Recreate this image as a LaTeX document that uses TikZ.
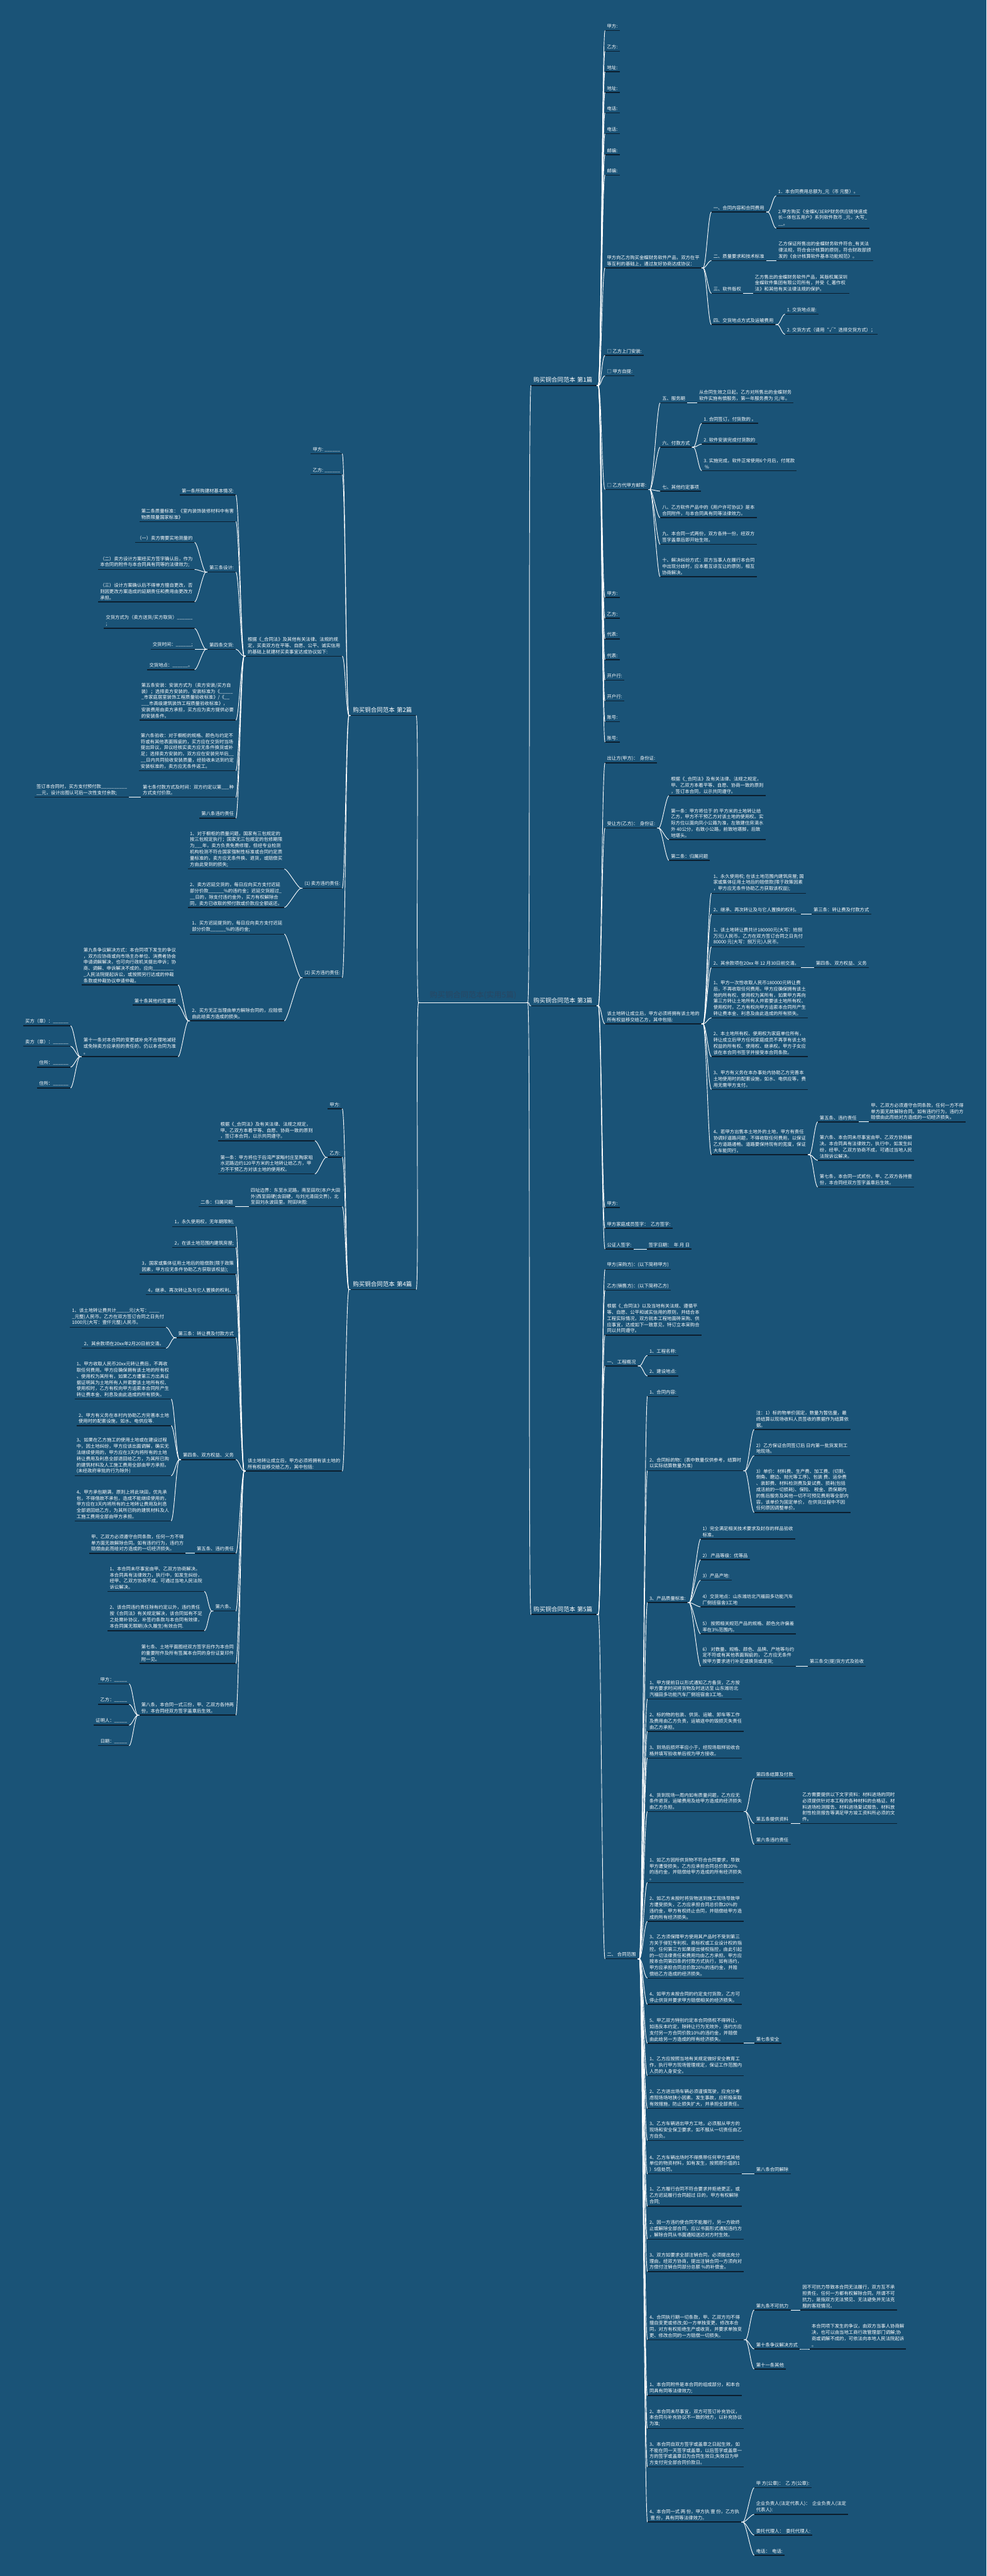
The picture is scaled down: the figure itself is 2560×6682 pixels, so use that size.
\documentclass[tikz,border=0pt]{standalone}
\usepackage{fontspec}
\setmainfont{Noto Sans CJK SC}
\definecolor{bg}{RGB}{26,83,119}
\definecolor{ulc}{RGB}{12,30,46}
\definecolor{rootc}{RGB}{40,70,98}
\tikzset{
 lf/.style={text=white, font=\fontsize{12}{16}\selectfont, align=left, inner xsep=5pt, inner ysep=5pt,
   append after command={(\tikzlastnode.south west) edge[draw=ulc, line width=2.5pt] (\tikzlastnode.south east)}},
 mainn/.style={text=white, font=\fontsize{15.5}{18}\selectfont, align=left, text width=158pt, inner xsep=6pt, inner ysep=7pt,
   append after command={(\tikzlastnode.south west) edge[draw=ulc, line width=2.5pt] (\tikzlastnode.south east)}},
 rootn/.style={text=rootc, font=\fontsize{20}{24}\selectfont, minimum width=275pt, inner xsep=0pt, inner ysep=9pt,
   append after command={(\tikzlastnode.south west) edge[draw=white, line width=1.8pt] (\tikzlastnode.south east)}},
 conn/.style={draw=white, line width=1.5pt},
}
\newcommand\nR[4]{\node[lf,anchor=south west] (#1) at (#2,#3) {#4};}
\newcommand\nL[4]{\node[lf,anchor=south east] (#1) at (#2,#3) {#4};}
\newcommand\fanR[2]{\foreach \kid in {#2}{\draw[conn] (#1.south east) -- ++(4,0) .. controls +(8,0) and +(-8,0) .. (\kid.south west);}}
\newcommand\fanL[2]{\foreach \kid in {#2}{\draw[conn] (#1.south west) -- ++(-4,0) .. controls +(-8,0) and +(8,0) .. (\kid.south east);}}
\begin{document}
\begin{tikzpicture}[x=1pt,y=-1pt]
\useasboundingbox (0,0) rectangle (2560,6682);
\fill[bg] (0,0) rectangle (2560,6682);

% root and main branches
\node[rootn,anchor=south west] (root) at (1090,2601) {购买铜合同范本(实用5篇)};
\node[mainn,anchor=south west] (m1) at (1378,1000) {购买铜合同范本 第1篇};
\node[mainn,anchor=south west] (m3) at (1378,2609) {购买铜合同范本 第3篇};
\node[mainn,anchor=south west] (m5) at (1378,4188) {购买铜合同范本 第5篇};
\node[mainn,anchor=south east] (m2) at (1080,1856) {购买铜合同范本 第2篇};
\node[mainn,anchor=south east] (m4) at (1080,3345) {购买铜合同范本 第4篇};

% ---------- branch 1
\nR{a1}{1570}{79}{甲方:}
\nR{a2}{1570}{133}{乙方:}
\nR{a3}{1570}{186}{地址:}
\nR{a4}{1570}{240}{地址:}
\nR{a5}{1570}{293}{电话:}
\nR{a6}{1570}{347}{电话:}
\nR{a7}{1570}{401}{邮编:}
\nR{a8}{1570}{454}{邮编:}
\nR{a9}{1570}{695}{甲方向乙方购买金蝶财务软件产品，双方在平\\等互利的基础上，通过友好协商达成协议：}
\nR{a9a}{1846}{550}{一、合同内容和合同费用}
\nR{a9a1}{2014}{508}{1．本合同费用总额为\_元（币 元整）。}
\nR{a9a2}{2014}{592}{2.甲方购买《金蝶K/3ERP财务供应链快速成\\长—体包五用户》系列软件款币 \_元，大写\_\\\_\_。}
\nR{a9b}{1846}{676}{二、质量要求和技术标准}
\nR{a9b1}{2015}{676}{乙方保证所售出的金蝶财务软件符合\_有关法\\律法规，符合会计核算的原则，符合财政部颁\\发的《会计核算软件基本功能规范》。}
\nR{a9c}{1846}{761}{三、软件版权}
\nR{a9c1}{1954}{761}{乙方售出的金蝶财务软件产品，其版权属深圳\\金蝶软件集团有限公司所有，并受《\_著作权\\法》和其他有关法律法规的保护。}
\nR{a9d}{1846}{842}{四、交货地点方式及运输费用}
\nR{a9d1}{2037}{815}{1. 交货地点是:}
\nR{a9d2}{2037}{867}{2. 交货方式（请用“√”选择交货方式）；}
\nR{a10}{1570}{922}{□ 乙方上门安装:}
\nR{a11}{1570}{975}{□ 甲方自提:}
\nR{a12}{1570}{1270}{□ 乙方代甲方邮寄:}
\nR{a12a}{1713}{1045}{五、服务期}
\nR{a12a1}{1809}{1045}{从合同生效之日起，乙方对所售出的金蝶财务\\软件实施有偿服务，第一年服务费为 元/年。}
\nR{a12b}{1713}{1160}{六、付款方式}
\nR{a12b1}{1821}{1098}{1. 合同签订，付货款的 。}
\nR{a12b2}{1821}{1152}{2. 软件安装完成付货款的}
\nR{a12b3}{1821}{1221}{3. 实施完成，软件正常使用6个月后，付尾款\\~\%}
\nR{a12c}{1713}{1274}{七、其他约定事项}
\nR{a12d}{1713}{1343}{八、乙方软件产品中的《用户许可协议》是本\\合同附件，与本合同具有同等法律效力。}
\nR{a12e}{1713}{1412}{九、本合同一式两份，双方各持一份，经双方\\签字盖章后即开始生效。}
\nR{a12f}{1713}{1496}{十、解决纠纷方式：双方当事人在履行本合同\\中出现分歧时，应本着互谅互让的原则，相互\\协商解决。}
\nR{a13}{1570}{1550}{甲方:}
\nR{a14}{1570}{1604}{乙方:}
\nR{a15}{1570}{1657}{代表:}
\nR{a16}{1570}{1711}{代表:}
\nR{a17}{1570}{1764}{开户行:}
\nR{a18}{1570}{1818}{开户行:}
\nR{a19}{1570}{1872}{账号:}
\nR{a20}{1570}{1925}{账号:}

% ---------- branch 3
\nR{b1}{1570}{1979}{出让方(甲方)：~~身份证:}
\nR{b2}{1570}{2148}{受让方(乙方)：~~身份证:}
\nR{b2a}{1736}{2064}{根据《\_合同法》及有关法律、法规之规定，\\甲、乙双方本着平等、自愿、协商一致的原则\\，签订本合同，以示共同遵守。}
\nR{b2b}{1736}{2178}{第一条：甲方将位于 的 平方米的土地转让给\\乙方，甲方不干预乙方对该土地的使用权。实\\际方位以面向凤小公路为准，左致建住房滴水\\外 40公分，右致小公路，前致地堪脚，后致\\地堪头。}
\nR{b2c}{1736}{2232}{第二条：归属问题}
\nR{b3}{1570}{2656}{该土地转让成立后，甲方必须将拥有该土地的\\所有权益移交给乙方，其中包括:}
\nR{b3a}{1846}{2317}{1、永久使用权; 在该土地范围内建筑房屋; 国\\家或集体征用土地后的赔偿款(限于政策因素\\，甲方应无条件协助乙方获取该权益);}
\nR{b3b}{1846}{2371}{2、继承、再次转让及与它人置换的权利。}
\nR{b3b1}{2106}{2371}{第三条：转让费及付款方式}
\nR{b3c}{1846}{2456}{1、该土地转让费共计180000元(大写：拾捌\\万元)人民币。乙方在双方签订合同之日先付\\80000 元(大写：捌万元)人民币。}
\nR{b3d}{1846}{2510}{2、其余款项在20xx 年 12 月30日前交清。}
\nR{b3d1}{2112}{2510}{第四条、双方权益、义务}
\nR{b3e}{1846}{2640}{1、甲方一次性收取人民币180000元转让费\\后，不再收取任何费用。甲方应确保拥有该土\\地的所有权、使用权为其所有，如果甲方再向\\第三方转让土地所有人并索要该土地所有权、\\使用权时，乙方有权向甲方追索本合同所产生\\转让费本金、利息及由此造成的所有损失。}
\nR{b3f}{1846}{2741}{2、本土地所有权、使用权为家庭单位所有，\\转让成立后甲方任何家庭成员不再享有该土地\\权益的所有权、使用权、继承权。甲方子女应\\该在本合同书签字并接受本合同条款。}
\nR{b3g}{1846}{2826}{3、甲方有义务在本办事处内协助乙方完善本\\土地使用时的配套设施，如水、电供应等，费\\用无需甲方支付。}
\nR{b3h}{1846}{2995}{4、若甲方出售本土地外的土地，甲方有责任\\协调好道路问题，不得收取任何费用，以保证\\乙方道路通畅。道路要保持现有的宽度，保证\\大车能同行。}
\nR{b3h1}{2122}{2910}{第五条、违约责任}
\nR{b3h1a}{2255}{2910}{甲、乙双方必须遵守合同条款，任何一方不得\\单方面无故解除合同。如有违约行为，违约方\\赔偿由此而给对方造成的一切经济损失。}
\nR{b3h2}{2122}{3010}{第六条、本合同未尽事宜由甲、乙双方协商解\\决。本合同具有法律效力，执行中，如发生纠\\纷，经甲、乙双方协商不成，可通过当地人民\\法院诉讼解决。}
\nR{b3h3}{2122}{3079}{第七条，本合同一式贰份，甲、乙双方各持壹\\份，本合同经双方签字盖章后生效。}
\nR{b4}{1570}{3132}{甲方:}
\nR{b5}{1570}{3186}{甲方家庭成员签字：~~乙方签字:}
\nR{b6}{1570}{3240}{公证人签字:}
\nR{b6a}{1678}{3240}{签字日期：~~年 月 日}

% ---------- branch 5
\nR{c1}{1570}{3293}{甲方(采购方)：(以下简称甲方)}
\nR{c2}{1570}{3347}{乙方(销售方)：(以下简称乙方)}
\nR{c3}{1570}{3463}{根据《\_合同法》以及当地有关法规、遵循平\\等、自愿、公平和诚实信用的原则，并结合本\\工程实际情况，双方就本工程地面砖采购、供\\应事宜，达成如下一致意见，特订立本采购合\\同以共同遵守。}
\nR{c4}{1570}{3543}{一、~工程概况}
\nR{c4a}{1680}{3516}{1、工程名称:}
\nR{c4b}{1680}{3569}{2、建设地点:}
\nR{c5}{1570}{5081}{二、~合同范围}
\nR{c5a}{1680}{3622}{1、合同内容:}
\nR{c5b}{1680}{3815}{2、合同标的物：(表中数量仅供参考，结算时\\以实际结算数量为准)}
\nR{c5b1}{1957}{3708}{注：1）标的物单价固定，数量为暂估量，最\\终结算以现场收料人员签收的票据作为结算依\\据。}
\nR{c5b2}{1957}{3776}{2）乙方保证合同签订后 日内第一批货发到工\\地现场。}
\nR{c5b3}{1957}{3923}{3）单价：材料费、生产费、加工费、(切割、\\倒角、磨边、抛光等工序)、包装 费、运杂费\\、装卸费、材料检测费及复试费、损耗(包括\\成活前的一切损耗)、保险、 税金、质保期内\\的售后服务及其他一切不可预见费用等全部内\\容，该单价为固定单价， 在供货过程中不因\\任何原因调整单价。}
\nR{c5c}{1680}{4157}{3、产品质量标准:}
\nR{c5c1}{1818}{3992}{1）完全满足相关技术要求及封存的样品验收\\标准。}
\nR{c5c2}{1818}{4046}{2）~产品等级：优等品}
\nR{c5c3}{1818}{4099}{3）产品产地:}
\nR{c5c4}{1818}{4168}{4）交货地点：山东潍坊北汽福田多功能汽车\\厂倒班宿舍3工地}
\nR{c5c5}{1818}{4238}{5）~按照相关规范产品的规格、颜色允许偏差\\率在3\%范围内。}
\nR{c5c6}{1818}{4322}{6）~对数量、规格、颜色、品牌、产地等与约\\定不符或有其他表面瑕疵的，~乙方应无条件\\按甲方要求进行补足或换货或退货;}
\nR{c5c6a}{2096}{4322}{第三条交(提)货方式及验收}
\nR{c5d}{1680}{4407}{1、甲方提前日以形式通知乙方备货，乙方按\\甲方要求时间将货物及时送达至 山东潍坊北\\汽福田多功能汽车厂倒班宿舍3工地。}
\nR{c5e}{1680}{4491}{2、标的物的包装、供货、运输、卸车等工作\\及费用由乙方负责，运输途中的毁损灭失责任\\由乙方承担。}
\nR{c5f}{1680}{4560}{3、到场后损坏率应小于，经现场取样验收合\\格并填写验收单后视为甲方接收。}
\nR{c5g}{1680}{4699}{4、货到现场一周内如有质量问题，乙方应无\\条件退货，运输费用及给甲方造成的经济损失\\由乙方负担。}
\nR{c5g1}{1957}{4614}{第四条结算及付款}
\nR{c5g2}{1957}{4730}{第五条提供资料}
\nR{c5g2a}{2077}{4730}{乙方需要提供以下文字资料：材料进场的同时\\必须提供针对本工程的各种材料的合格证、材\\料进场检测报告、材料进场复试报告、材料放\\射性检测报告等满足甲方竣工资料所必须的文\\件。}
\nR{c5g3}{1957}{4784}{第六条违约责任}
\nR{c5h}{1680}{4883}{1、如乙方因所供货物不符合合同要求，导致\\甲方遭受损失，乙方应承担合同总价款20\%\\的违约金，并赔偿给甲方造成的所有经济损失\\。}
\nR{c5i}{1680}{4984}{2、如乙方未按时将货物送到施工现场导致甲\\方遭受损失，乙方应承担合同总价款20\%的\\违约金，甲方有权终止合同，并赔偿给甲方造\\成的所有经济损失。}
\nR{c5j}{1680}{5131}{3、乙方须保障甲方使用其产品时不受到第三\\方关于侵犯专利权、商标权或工业设计权的指\\控。任何第三方如果提出侵权指控，由此引起\\的一切法律责任和费用均由乙方承担。甲方应\\按本合同第四条的付款方式执行，如有违约，\\甲方应承担合同总价款20\%的违约金，并赔\\偿给乙方造成的经济损失。}
\nR{c5k}{1680}{5199}{4、如甲方未按合同的约定支付货款，乙方可\\停止供货并要求甲方赔偿相关的经济损失。}
\nR{c5l}{1680}{5300}{5、甲乙双方特别约定本合同债权不得转让，\\如违反本约定，除转让行为无效外，违约方应\\支付另一方合同价款10\%的违约金，并赔偿\\由此给另一方造成的所有经济损失。}
\nR{c5l1}{1957}{5300}{第七条安全}
\nR{c5m}{1680}{5384}{1、乙方应按照当地有关规定做好安全教育工\\作，执行甲方现场管理规定，保证工作范围内\\人员的人身安全。}
\nR{c5n}{1680}{5469}{2、乙方进出场车辆必须谨慎驾驶，应充分考\\虑现场场地狭小因素。发生事故，应积极采取\\有效措施，防止损失扩大，并承担全部责任。}
\nR{c5o}{1680}{5552}{3、乙方车辆进出甲方工地，必须服从甲方的\\现场和安全保卫要求，如不服从一切责任由乙\\方自负。}
\nR{c5p}{1680}{5639}{4、乙方车辆出场时不得携带任何甲方或其他\\单位的物资材料，如有发生，按照原价值的1\\）5倍处罚。}
\nR{c5p1}{1957}{5639}{第八条合同解除}
\nR{c5q}{1680}{5723}{1、乙方履行合同不符合要求并拒绝更正，或\\乙方迟延履行合同超过 日的，甲方有权解除\\合同;}
\nR{c5r}{1680}{5808}{2、因一方违约使合同不能履行，另一方欲终\\止或解除全部合同，应以书面形式通知违约方\\，解除合同从书面通知送达对方时生效。}
\nR{c5s}{1680}{5892}{3、双方如要求全部注销合同，必须提出充分\\理由，经双方协商，提出注销合同一方须向对\\方偿付注销合同部分总额 \%的补偿金。}
\nR{c5t}{1680}{6069}{4、合同执行期一切条款，甲、乙双方均不得\\擅自变更或修改;如一方单独变更、修改本合\\同，对方有权拒绝生产或收货，并要求单独变\\更、修改合同的一方赔偿一切损失。}
\nR{c5t1}{1957}{5992}{第九条不可抗力}
\nR{c5t1a}{2077}{5992}{因不可抗力导致本合同无法履行，双方互不承\\担责任，任何一方都有权解除合同。所谓不可\\抗力，是指双方无法预见、无法避免并无法克\\服的客观情况。}
\nR{c5t2}{1957}{6093}{第十条争议解决方式}
\nR{c5t2a}{2101}{6093}{本合同项下发生的争议，由双方当事人协商解\\决，也可以由当地工商行政管理部门调解;协\\商或调解不成的，可依法向本地人民法院起诉\\。}
\nR{c5t3}{1957}{6145}{第十一条其他}
\nR{c5u}{1680}{6214}{1、本合同附件是本合同的组成部分，和本合\\同具有同等法律效力;}
\nR{c5v}{1680}{6299}{2、本合同未尽事宜，双方可签订补充协议，\\本合同与补充协议不一致的地方，以补充协议\\为准;}
\nR{c5w}{1680}{6399}{3、本合同自双方签字或盖章之日起生效，如\\不能在同一天签字或盖章，以后签字或盖章一\\方的签字或盖章日为合同生效日;失效日为甲\\方支付完全部合同价款日。}
\nR{c5x}{1680}{6542}{4、本合同一式 两 份，甲方执 壹 份，乙方执\\~壹 份，具有同等法律效力。}
\nR{c5x1}{1957}{6453}{甲 方(公章)：~~乙 方(公章):}
\nR{c5x2}{1957}{6522}{企业负责人(法定代表人)：~~企业负责人(法定\\代表人):}
\nR{c5x3}{1957}{6576}{委托代理人：~~委托代理人:}
\nR{c5x4}{1957}{6628}{电话：~~电话:}

% ---------- branch 2 (left)
\nL{d1}{888}{1177}{甲方: \_\_\_\_\_\_}
\nL{d2}{888}{1231}{乙方: \_\_\_\_\_\_}
\nL{d3}{888}{1702}{根据《\_合同法》及其他有关法律、法规的规\\定，买卖双方在平等、自愿、公平、诚实信用\\的基础上就建材买卖事宜达成协议如下:}
\nL{d3a}{612}{1284}{第一条所购建材基本情况:}
\nL{d3b}{612}{1353}{第二条质量标准：《室内装饰装修材料中有害\\物质限量国家标准》}
\nL{d3c}{612}{1484}{第三条设计:}
\nL{d3c1}{505}{1407}{（一）卖方需要实地测量的}
\nL{d3c2}{505}{1477}{（二）卖方设计方案经买方签字确认后，作为\\本合同的附件与本合同具有同等的法律效力;}
\nL{d3c3}{505}{1561}{（三）设计方案确认后不得单方擅自更改，否\\则因更改方案造成的延期责任和费用由更改方\\承担。}
\nL{d3d}{612}{1684}{第四条交货:}
\nL{d3d1}{505}{1630}{交货方式为（卖方送货/买方取货）\_\_\_\_\_\_\\;}
\nL{d3d2}{505}{1684}{交货时间：\_\_\_\_\_\_;}
\nL{d3d3}{505}{1737}{交货地点：\_\_\_\_\_\_。}
\nL{d3e}{612}{1868}{第五条安装：安装方式为（卖方安装/买方自\\装）；选择卖方安装的，安装标准为《\_\_\_\_\_\\\_市家庭居室装饰工程质量验收标准》/《\_\_\\\_\_\_市高级建筑装饰工程质量验收标准》，\\安装费用由卖方承担，买方应为卖方提供必要\\的安装条件。}
\nL{d3f}{612}{1999}{第六条验收：对于橱柜的规格、颜色与约定不\\符或有其他表面瑕疵的，买方应在交货时当场\\提出异议，异议经核实卖方应无条件换货或补\\足；选择卖方安装的，双方应在安装完毕后\_\_\\\_\_日内共同验收安装质量，经验收未达到约定\\安装标准的，卖方应无条件返工。}
\nL{d3g}{612}{2068}{第七条付款方式及时间：双方约定以第\_\_\_种\\方式支付价款。}
\nL{d3g1}{335}{2068}{签订本合同时，买方支付预付款\_\_\_\_\_\_\_\_\_\_\\\_\_元，设计出图认可后一次性支付余款;}
\nL{d3h}{612}{2122}{第八条违约责任}
\nL{d4}{888}{2304}{(1) 卖方违约责任:}
\nL{d4a}{738}{2254}{1、对于橱柜的质量问题，国家有三包规定的\\按三包规定执行；国家无三包规定的包修期限\\为\_\_\_年，卖方负责免费修理，但经专业检测\\机构检测不符合国家强制性标准或合同约定质\\量标准的，卖方应无条件换、退货，或赔偿买\\方由此受到的损失;}
\nL{d4b}{738}{2354}{2、卖方迟延交货的，每日应向买方支付迟延\\部分价款\_\_\_\_\_\_\%的违约金；迟延交货超过\_\\\_\_日的，除支付违约金外，买方有权解除合\\同，卖方已收取的预付款或价款应全额返还。}
\nL{d5}{888}{2536}{(2) 买方违约责任:}
\nL{d5a}{738}{2423}{1、买方迟延提货的，每日应向卖方支付迟延\\部分价款\_\_\_\_\_\_\%的违约金;}
\nL{d5b}{738}{2648}{2、买方无正当理由单方解除合同的，应赔偿\\由此给卖方造成的损失。}
\nL{d5b1}{462}{2555}{第九条争议解决方式：本合同项下发生的争议\\，双方应协商或向市场主办单位、消费者协会\\申请调解解决，也可向行政机关提出申诉；协\\商、调解、申诉解决不成的，应向\_\_\_\_\_\_\_\_\\\_人民法院提起诉讼，或按照另行达成的仲裁\\条款或仲裁协议申请仲裁。}
\nL{d5b2}{462}{2607}{第十条其他约定事项}
\nL{d5b3}{462}{2741}{第十一条对本合同的变更或补充不合理地减轻\\或免除卖方应承担的责任的，仍以本合同为准\\。}
\nL{d5b3a}{183}{2661}{买方（章）：\_\_\_\_\_\_}
\nL{d5b3b}{183}{2714}{卖方（章）：\_\_\_\_\_\_}
\nL{d5b3c}{183}{2768}{住所：\_\_\_\_\_\_}
\nL{d5b3d}{183}{2822}{住所：\_\_\_\_\_\_}

% ---------- branch 4 (left)
\nL{e1}{888}{2876}{甲方:}
\nL{e2}{888}{3002}{乙方:}
\nL{e2a}{817}{2959}{根据《\_合同法》及有关法律、法规之规定，\\甲、乙双方本着平等、自愿、协商一致的原则\\，签订本合同，以示共同遵守。}
\nL{e2b}{817}{3045}{第一条：甲方将位于后湾严家畈村庄至陶家咀\\水泥路边约120平方米的土地转让给乙方，甲\\方不干预乙方对该土地的使用权。}
\nL{e3}{888}{3130}{四址边界：东至水泥路，南至田坎(本户大田\\外)西至田硬(含田硬，与刘光清田交界)，北\\至田刘永波田里。附田块图:}
\nL{e3a}{610}{3130}{二条：归属问题}
\nL{e4}{888}{3816}{该土地转让成立后，甲方必须将拥有该土地的\\所有权益移交给乙方，其中包括:}
\nL{e4a}{612}{3182}{1，永久使用权，无年期限制;}
\nL{e4b}{612}{3236}{2，在该土地范围内建筑房屋;}
\nL{e4c}{612}{3305}{3，国家或集体征用土地后的赔偿款(限于政策\\因素，甲方应无条件协助乙方获取该权益);}
\nL{e4d}{612}{3358}{4，继承、再次转让及与它人置换的权利。}
\nL{e4e}{612}{3470}{第三条：转让费及付款方式}
\nL{e4e1}{431}{3443}{1、该土地转让费共计\_\_\_\_\_元(大写：\_\_\_\_\\\_元整)人民币。乙方在双方签订合同之日先付\\1000元(大写：壹仟元整)人民币。}
\nL{e4e2}{431}{3497}{2、其余款项在20xx年2月20日前交清。}
\nL{e4f}{612}{3786}{第四条、双方权益、义务}
\nL{e4f1}{444}{3629}{1、甲方收取人民币20xx元转让费后，不再收\\取任何费用。甲方应确保拥有该土地的所有权\\、使用权为其所有，如果乙方遭第三方出具证\\据证明其为土地所有人并索要该土地所有权、\\使用权时，乙方有权向甲方追索本合同所产生\\转让费本金、利息及由此造成的所有损失。}
\nL{e4f2}{444}{3698}{2、甲方有义务在本村内协助乙方完善本土地\\使用时的配套设施，如水、电供应等.}
\nL{e4f3}{444}{3828}{3、如果在乙方施工的使用土地或在建设过程\\中，因土地纠纷，甲方应该出面调解，确实无\\法继续使用的，甲方应在3天内将所有的土地\\转让费用及利息全部退回给乙方，为其所已购\\的建筑材料及人工施工费用全部由甲方承担。\\(未经政府审批的行为除外)}
\nL{e4f4}{444}{3945}{4、甲方承包期满，原则上将此块田，优先承\\包，不得借故不承包，造成不能继续使用的，\\甲方应在3天内将所有的土地转让费用及利息\\全部退回给乙方，为其所已购的建筑材料及人\\工施工费用全部由甲方承担。}
\nL{e4g}{612}{4029}{第五条、违约责任}
\nL{e4g1}{482}{4029}{甲、乙双方必须遵守合同条款，任何一方不得\\单方面无故解除合同。如有违约行为，违约方\\赔偿由此而给对方造成的一切经济损失。}
\nL{e4h}{612}{4179}{第六条、}
\nL{e4h1}{530}{4128}{1、本合同未尽事宜由甲、乙双方协商解决。\\本合同具有法律效力，执行中，如发生纠纷，\\经甲、乙双方协商不成，可通过当地人民法院\\诉讼解决。}
\nL{e4h2}{530}{4230}{2、该合同违约责任除有约定以外，违约责任\\按《合同法》有关规定解决，该合同如有不足\\之处需补协议，补签约条款与本合同有效律，\\本合同属无限期(永久履生)有效合同.}
\nL{e4i}{612}{4315}{第七条、土地平面图经双方签字后作为本合同\\的重要附件及所有签属本合同的身份证复印件\\附一见。}
\nL{e4j}{612}{4449}{第八条，本合同一式三份，甲、乙双方各持两\\份，本合同经双方签字盖章后生效。}
\nL{e4j1}{335}{4368}{甲方：\_\_\_\_\_}
\nL{e4j2}{335}{4421}{乙方：\_\_\_\_\_}
\nL{e4j3}{335}{4475}{证明人：\_\_\_\_\_}
\nL{e4j4}{335}{4528}{日期：\_\_\_\_\_}

% ---------- connectors
\fanR{root}{m1,m3,m5}
\fanL{root}{m2,m4}
\fanR{m1}{a1,a2,a3,a4,a5,a6,a7,a8,a9,a10,a11,a12,a13,a14,a15,a16,a17,a18,a19,a20}
\fanR{a9}{a9a,a9b,a9c,a9d}
\fanR{a9a}{a9a1,a9a2}
\fanR{a9b}{a9b1}
\fanR{a9c}{a9c1}
\fanR{a9d}{a9d1,a9d2}
\fanR{a12}{a12a,a12b,a12c,a12d,a12e,a12f}
\fanR{a12a}{a12a1}
\fanR{a12b}{a12b1,a12b2,a12b3}
\fanR{m3}{b1,b2,b3,b4,b5,b6}
\fanR{b2}{b2a,b2b,b2c}
\fanR{b3}{b3a,b3b,b3c,b3d,b3e,b3f,b3g,b3h}
\fanR{b3b}{b3b1}
\fanR{b3d}{b3d1}
\fanR{b3h}{b3h1,b3h2,b3h3}
\fanR{b3h1}{b3h1a}
\fanR{b6}{b6a}
\fanR{m5}{c1,c2,c3,c4,c5}
\fanR{c4}{c4a,c4b}
\fanR{c5}{c5a,c5b,c5c,c5d,c5e,c5f,c5g,c5h,c5i,c5j,c5k,c5l,c5m,c5n,c5o,c5p,c5q,c5r,c5s,c5t,c5u,c5v,c5w,c5x}
\fanR{c5b}{c5b1,c5b2,c5b3}
\fanR{c5c}{c5c1,c5c2,c5c3,c5c4,c5c5,c5c6}
\fanR{c5c6}{c5c6a}
\fanR{c5g}{c5g1,c5g2,c5g3}
\fanR{c5g2}{c5g2a}
\fanR{c5l}{c5l1}
\fanR{c5p}{c5p1}
\fanR{c5t}{c5t1,c5t2,c5t3}
\fanR{c5t1}{c5t1a}
\fanR{c5t2}{c5t2a}
\fanR{c5x}{c5x1,c5x2,c5x3,c5x4}
\fanL{m2}{d1,d2,d3,d4,d5}
\fanL{d3}{d3a,d3b,d3c,d3d,d3e,d3f,d3g,d3h}
\fanL{d3c}{d3c1,d3c2,d3c3}
\fanL{d3d}{d3d1,d3d2,d3d3}
\fanL{d3g}{d3g1}
\fanL{d4}{d4a,d4b}
\fanL{d5}{d5a,d5b}
\fanL{d5b}{d5b1,d5b2,d5b3}
\fanL{d5b3}{d5b3a,d5b3b,d5b3c,d5b3d}
\fanL{m4}{e1,e2,e3,e4}
\fanL{e2}{e2a,e2b}
\fanL{e3}{e3a}
\fanL{e4}{e4a,e4b,e4c,e4d,e4e,e4f,e4g,e4h,e4i,e4j}
\fanL{e4e}{e4e1,e4e2}
\fanL{e4f}{e4f1,e4f2,e4f3,e4f4}
\fanL{e4g}{e4g1}
\fanL{e4h}{e4h1,e4h2}
\fanL{e4j}{e4j1,e4j2,e4j3,e4j4}
\end{tikzpicture}
\end{document}
